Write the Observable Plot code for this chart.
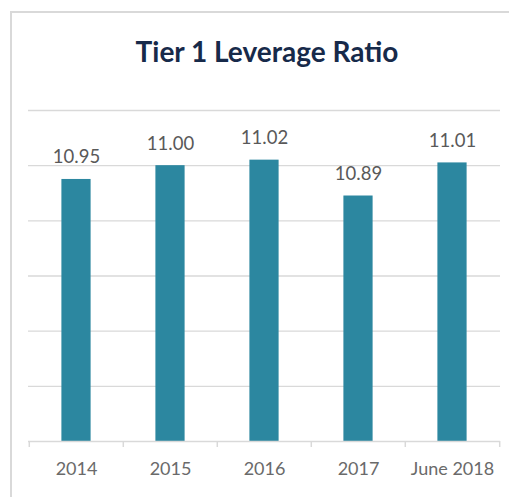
<!DOCTYPE html>
<html>
<head>
<meta charset="utf-8">
<script src="https://cdn.jsdelivr.net/npm/d3@7"></script>
<script src="https://cdn.jsdelivr.net/npm/@observablehq/plot@0.6"></script>
<style>
  html, body { margin: 0; padding: 0; background: #fff; }
  #wrap { position: relative; width: 509px; height: 497px; overflow: hidden; font-family: Lato, "Open Sans", sans-serif; }
  #frame { position: absolute; left: 10px; top: 11px; width: 600px; height: 600px; border: 2px solid #d9d9d9; box-sizing: border-box; }
  #title { position: absolute; left: 0; top: 35px; width: 534px; text-align: center; font-size: 28px; line-height: 1.2; font-weight: 700; color: #172a4a; }
  #chart { position: absolute; left: 0; top: 0; }
</style>
</head>
<body>
<div id="wrap">
  <div id="frame"></div>
  <div id="title">Tier 1 Leverage Ratio</div>
  <div id="chart"></div>
</div>
<script>
const categories = ["2014", "2015", "2016", "2017", "June 2018"];
const values = [10.95, 11.00, 11.02, 10.89, 11.01];
const labels = ["10.95", "11.00", "11.02", "10.89", "11.01"];
const gridTicks = [10.2, 10.4, 10.6, 10.8, 11.0, 11.2];

const data = categories.map((c, i) => ({ cat: c, value: values[i], label: labels[i] }));

const W = 509, H = 497;
const mL = 28, mR = 9, mT = 110, mB = 56;
const step = (W - mL - mR) / categories.length;
const barW = 29.6;
const inset = (step - barW) / 2;
const grey = "#d9d9d9";

const chart = Plot.plot({
  width: W,
  height: H,
  marginLeft: mL,
  marginRight: mR,
  marginTop: mT,
  marginBottom: mB,
  style: { fontFamily: "Lato, 'Open Sans', sans-serif", background: "transparent" },
  x: { domain: categories, padding: 0, label: null },
  y: { domain: [10, 11.2], label: null },
  marks: [
    Plot.ruleY(gridTicks, { stroke: grey, strokeWidth: 1.3 }),
    Plot.barY(data, { x: "cat", y1: 10, y2: "value", fill: "#2c87a0", insetLeft: inset, insetRight: inset }),
    Plot.ruleY([10], { stroke: grey, strokeWidth: 1.5 }),
    Plot.ruleX(categories, { x: d => d, dx: -step / 2, y1: 10, y2: 10 - 6 / 276, stroke: grey, strokeWidth: 1.5 }),
    Plot.ruleX(categories.slice(-1), { x: d => d, dx: step / 2, y1: 10, y2: 10 - 6 / 276, stroke: grey, strokeWidth: 1.5 }),
    Plot.text(data, { x: "cat", y: "value", text: "label", dy: -22, fontSize: 18.5, fill: "#595959" }),
    Plot.axisX({ tickSize: 0, tickPadding: 21, fontSize: 18, fill: "#6a6a6a", label: null }),
    Plot.axisY({ ticks: [], label: null })
  ]
});
document.getElementById("chart").appendChild(chart);
</script>
</body>
</html>
